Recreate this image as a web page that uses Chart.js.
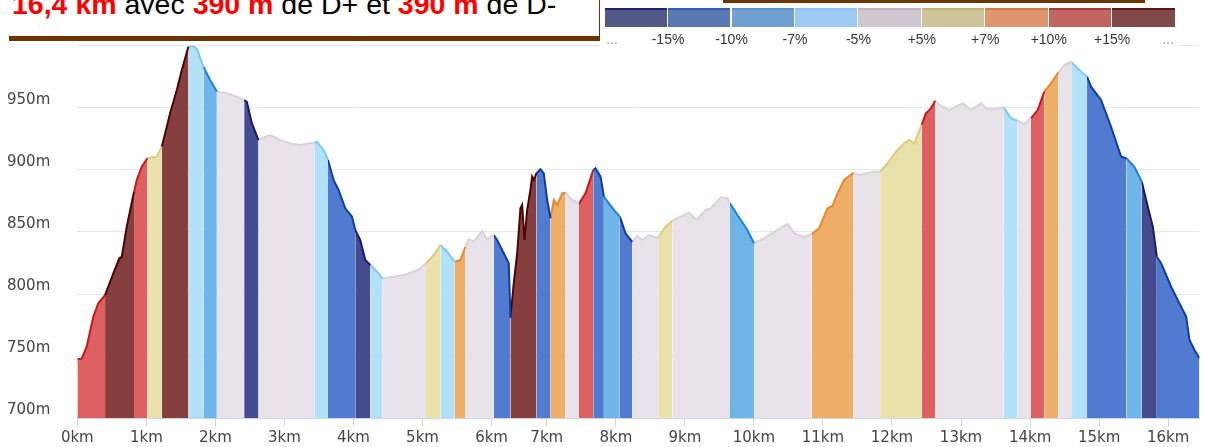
<!DOCTYPE html>
<html>
<head>
<meta charset="utf-8">
<script src="https://cdn.jsdelivr.net/npm/chart.js@4.4.1/dist/chart.umd.min.js"></script>
<style>
  body { margin: 0; background: #fff; }
  #wrap { position: relative; width: 1205px; height: 447px; overflow: hidden; }
  #profil { position: absolute; left: 0; top: 0; }
  #titre { position: absolute; left: 9px; top: -20px; width: 590px; height: 56px; background: #fff;
           border-bottom: 5px solid #6b3506; border-right: 5px solid #6b3506; }
  #titreTxt { position: absolute; left: 12px; top: -10px; font: 28.5px/28px "Liberation Sans", Arial, sans-serif;
              color: #000; white-space: nowrap; }
  #titreTxt b { color: #f00; }
  #legende { position: absolute; left: 600px; top: 0; width: 578px; height: 48px; background: #fff; }
  #legende .filet { position: absolute; left: 123px; top: 0; width: 422px; height: 3px; background: #6b3506; }
  #legende .bloc { position: absolute; top: 8px; height: 19px; box-sizing: border-box; border-top: 2px solid; }
  #legende .lib { position: absolute; top: 31px; width: 60px; margin-left: -30px; text-align: center;
                  font: 14px "Liberation Sans", Arial, sans-serif; color: #333; }
  #legende .lib.gris { color: #999; }
</style>
</head>
<body>
<div id="wrap">
  <canvas id="profil" width="1205" height="447"></canvas>
  <div id="titre"></div>
  <div id="titreTxt"><b>16,4 km</b> avec <b>390 m</b> de D+ et <b>390 m</b> de D-</div>
  <div id="legende"><div class="filet"></div></div>
</div>
<script>
// profil altimétrique : distance (km) et altitude (m)
const distKm = [
  0.000, 0.064, 0.136, 0.232, 0.304, 0.402, 0.522, 0.609, 0.644, 0.716,
  0.822, 0.861, 0.934, 1.015, 1.151, 1.224, 1.296, 1.344, 1.441, 1.514,
  1.609, 1.659, 1.731, 1.827, 1.924, 2.021, 2.166, 2.311, 2.417, 2.456,
  2.529, 2.624, 2.674, 2.794, 2.939, 3.084, 3.229, 3.350, 3.432, 3.471,
  3.567, 3.631, 3.712, 3.784, 3.881, 3.979, 4.026, 4.099, 4.171, 4.244,
  4.341, 4.422, 4.582, 4.727, 4.872, 4.969, 5.051, 5.162, 5.259, 5.356,
  5.466, 5.549, 5.621, 5.669, 5.742, 5.864, 5.936, 6.040, 6.101, 6.221,
  6.312, 6.330, 6.342, 6.402, 6.464, 6.523, 6.554, 6.596, 6.645, 6.704,
  6.735, 6.765, 6.814, 6.886, 6.946, 7.006, 7.054, 7.102, 7.151, 7.223,
  7.271, 7.344, 7.464, 7.561, 7.673, 7.706, 7.779, 7.827, 7.971, 8.058,
  8.141, 8.238, 8.311, 8.383, 8.479, 8.601, 8.624, 8.721, 8.818, 8.939,
  9.059, 9.171, 9.301, 9.374, 9.519, 9.616, 9.653, 9.761, 9.906, 10.001,
  10.146, 10.340, 10.485, 10.606, 10.726, 10.838, 10.944, 11.066, 11.138, 11.211,
  11.307, 11.443, 11.524, 11.646, 11.718, 11.828, 11.936, 12.056, 12.176, 12.249,
  12.321, 12.429, 12.491, 12.564, 12.626, 12.709, 12.829, 12.926, 13.023, 13.144,
  13.289, 13.385, 13.481, 13.617, 13.723, 13.820, 13.916, 14.013, 14.110, 14.206,
  14.303, 14.409, 14.496, 14.593, 14.608, 14.690, 14.763, 14.825, 14.883, 15.028,
  15.173, 15.318, 15.395, 15.511, 15.618, 15.705, 15.778, 15.836, 15.898, 16.043,
  16.188, 16.261, 16.309, 16.381, 16.454
];
const elevM = [
  747.5, 748, 757.6, 781.8, 792.6, 799.2, 816.7, 828.8, 830, 854.2,
  882.4, 891.8, 902.5, 909.3, 910.6, 918.6, 934.7, 945.5, 964.2, 980.3,
  999, 1000, 997.8, 983, 972.3, 963, 961.6, 958.9, 956.2, 954.8,
  937.4, 924, 925.4, 928, 924, 921.3, 920, 921.3, 921.8, 922.6,
  916, 907.9, 891.8, 883.8, 869, 862.3, 851.6, 843.5, 827.4, 823.4,
  818, 812.7, 814, 815.3, 818, 820.7, 824.8, 831.4, 839.5, 834.1,
  826, 827.4, 838.1, 844, 842.1, 851, 844, 847.5, 843.5, 832.8,
  824.8, 798, 781, 808.7, 832.8, 869, 871.7, 843.5, 867.7, 883.8,
  894.5, 891.8, 897.3, 900.4, 897.2, 875.7, 861, 875.7, 871.7, 881.1,
  881.6, 877.1, 872.5, 881.1, 899.8, 901.2, 894.5, 878.4, 867.7, 862.3,
  848.9, 842.1, 846.7, 843.5, 847.5, 844.9, 846.2, 854.2, 859, 862.3,
  865.5, 859.6, 867.7, 869, 877.9, 877.1, 873, 863.6, 851.6, 840.9,
  844.9, 851.6, 856.4, 848.3, 846.2, 848.3, 852.9, 869, 870.9, 881.1,
  891.8, 897.7, 895.8, 897.2, 898.5, 898.5, 905.2, 914.6, 921.3, 924,
  921.3, 936.1, 945.5, 949.5, 955.6, 951.4, 948.1, 950.8, 953.5, 948.1,
  953.5, 948.7, 948.7, 950.3, 941.5, 939.6, 936.9, 941.5, 948.1, 962.9,
  969.6, 978.2, 984.4, 987, 986.2, 981.7, 977.7, 975, 966.9, 956.2,
  934.7, 910.6, 909.3, 902.5, 890.4, 870.3, 854.2, 830.1, 824.8, 805.9,
  789.8, 781.8, 763, 755, 748.3
];

// tronçons : km de début et classe de pente (index dans slopeClasses)
const bandStartKm = [0, 0.402, 0.822, 1.015, 1.224, 1.609, 1.827, 2.021, 2.417, 2.624,
  3.432, 3.631, 4.026, 4.244, 4.422, 5.051, 5.259, 5.466, 5.621, 6.040,
  6.342, 6.814, 7.054, 7.271, 7.464, 7.673, 7.827, 8.058, 8.238, 8.624,
  8.818, 9.653, 10.001, 10.838, 11.443, 11.828, 12.429, 12.626, 13.617, 13.820,
  14.013, 14.206, 14.409, 14.608, 14.825, 15.395, 15.618, 15.836];
const bandClass = [7, 8, 7, 5, 8, 3, 2, 4, 0, 4,
  3, 1, 0, 3, 4, 5, 3, 6, 4, 1,
  8, 1, 6, 4, 7, 1, 2, 1, 4, 5,
  4, 2, 4, 6, 4, 5, 7, 4, 3, 4,
  7, 6, 4, 3, 1, 2, 0, 1];

const slopeClasses = ['< -15%', '-15% / -10%', '-10% / -7%', '-7% / -5%', '-5% / +5%',
  '+5% / +7%', '+7% / +10%', '+10% / +15%', '> +15%'];
const legendLabels = ['...', '-15%', '-10%', '-7%', '-5%', '+5%', '+7%', '+10%', '+15%', '...'];

const kmTicks = [0, 1, 2, 3, 4, 5, 6, 7, 8, 9, 10, 11, 12, 13, 14, 15, 16];
const elevTicks = [700, 750, 800, 850, 900, 950, 1000];
const elevTickLabels = ['700m', '750m', '800m', '850m', '900m', '950m', ''];

// couleurs
const slopeFill = ['#444b8f', '#517bd0', '#70b5ea', '#b3e2f8', '#e8e2e9', '#e8e1a9', '#efae68', '#de6060', '#863f3f'];
const slopeLine = ['#161c6a', '#0b3ea3', '#1f80d2', '#7cc8f0', '#dad2db', '#dacd7c', '#e8892b', '#c8181a', '#4a0606'];
const legendFill = ['#525987', '#5a78b1', '#71a0d3', '#9dc9f5', '#cfc7cf', '#cfc498', '#df966f', '#c0655f', '#7f4a48'];
const legendTop = ['#1c2470', '#3060a8', '#5a90d0', '#8cc0f0', '#bdb5bd', '#c2b275', '#d57a48', '#a83838', '#5c1414'];

// l'axe des km du modèle est resserré entre 6 et 7 km
function warpKm(v) {
  if (v <= 6) return v;
  if (v <= 7) return 6 + (v - 6) * 0.8;
  return v - 0.2;
}
function unwarpKm(w) {
  if (w <= 6) return w;
  if (w <= 6.8) return 6 + (w - 6) / 0.8;
  return w + 0.2;
}
class WarpedKmScale extends Chart.LinearScale {
  getPixelForValue(value) {
    const a = warpKm(this.min), b = warpKm(this.max);
    return this.getPixelForDecimal((warpKm(value) - a) / (b - a));
  }
  getValueForPixel(pixel) {
    const a = warpKm(this.min), b = warpKm(this.max);
    return unwarpKm(a + this.getDecimalForPixel(pixel) * (b - a));
  }
}
WarpedKmScale.id = 'warpedKm';
Chart.register(WarpedKmScale);

// légende
const leg = document.getElementById('legende');
legendFill.forEach(function(col, i) {
  const d = document.createElement('div');
  d.className = 'bloc';
  d.style.left = (4.6 + i * 63.45) + 'px';
  d.style.width = '62.4px';
  d.style.background = col;
  d.style.borderTopColor = legendTop[i];
  leg.appendChild(d);
});
legendLabels.forEach(function(txt, i) {
  const d = document.createElement('div');
  d.className = 'lib' + (txt === '...' ? ' gris' : '');
  let x = 4.6 + i * 63.45;
  if (i === 0) x = 12;
  if (i === legendLabels.length - 1) x = 568;
  d.style.left = x + 'px';
  d.textContent = txt;
  leg.appendChild(d);
});

// un jeu de données par tronçon
const lastKm = distKm[distKm.length - 1];
const datasets = bandStartKm.map(function(start, i) {
  const end = i + 1 < bandStartKm.length ? bandStartKm[i + 1] : lastKm;
  const pts = [];
  distKm.forEach(function(d, j) {
    if (d >= start && d <= end) pts.push({ x: d, y: elevM[j] });
  });
  const c = bandClass[i];
  return {
    label: slopeClasses[c],
    data: pts,
    fill: 'start',
    backgroundColor: slopeFill[c],
    borderColor: slopeLine[c],
    borderWidth: 2,
    pointRadius: 0,
    tension: 0
  };
});

const tickFont = { family: 'DejaVu Sans', size: 15 };

new Chart(document.getElementById('profil'), {
  type: 'line',
  data: { datasets: datasets },
  options: {
    responsive: false,
    animation: false,
    devicePixelRatio: 1,
    layout: { padding: { top: 45.6, left: 7, right: 5.5, bottom: 0 } },
    plugins: { legend: { display: false }, tooltip: { enabled: false } },
    scales: {
      x: {
        type: 'warpedKm',
        min: 0,
        max: lastKm,
        afterBuildTicks: function(ax) { ax.ticks = kmTicks.map(v => ({ value: v })); },
        afterFit: function(ax) { ax.height = 28.7; },
        grid: { drawOnChartArea: false, color: '#ccd6eb', tickLength: 8 },
        border: { color: '#ccd6eb' },
        ticks: {
          autoSkip: false, maxRotation: 0, padding: 3, color: '#444', font: tickFont,
          callback: function(v) { return v + 'km'; }
        }
      },
      y: {
        min: 700,
        max: 1000,
        afterBuildTicks: function(ax) { ax.ticks = elevTicks.map(v => ({ value: v })); },
        afterFit: function(ax) { ax.width = 70.3; },
        grid: { color: '#e6e6e6', drawTicks: false },
        border: { display: false },
        ticks: {
          crossAlign: 'far', labelOffset: -8, padding: 0, color: '#444', font: tickFont,
          callback: function(v, i) { return elevTickLabels[i]; }
        }
      }
    }
  }
});
</script>
</body>
</html>
